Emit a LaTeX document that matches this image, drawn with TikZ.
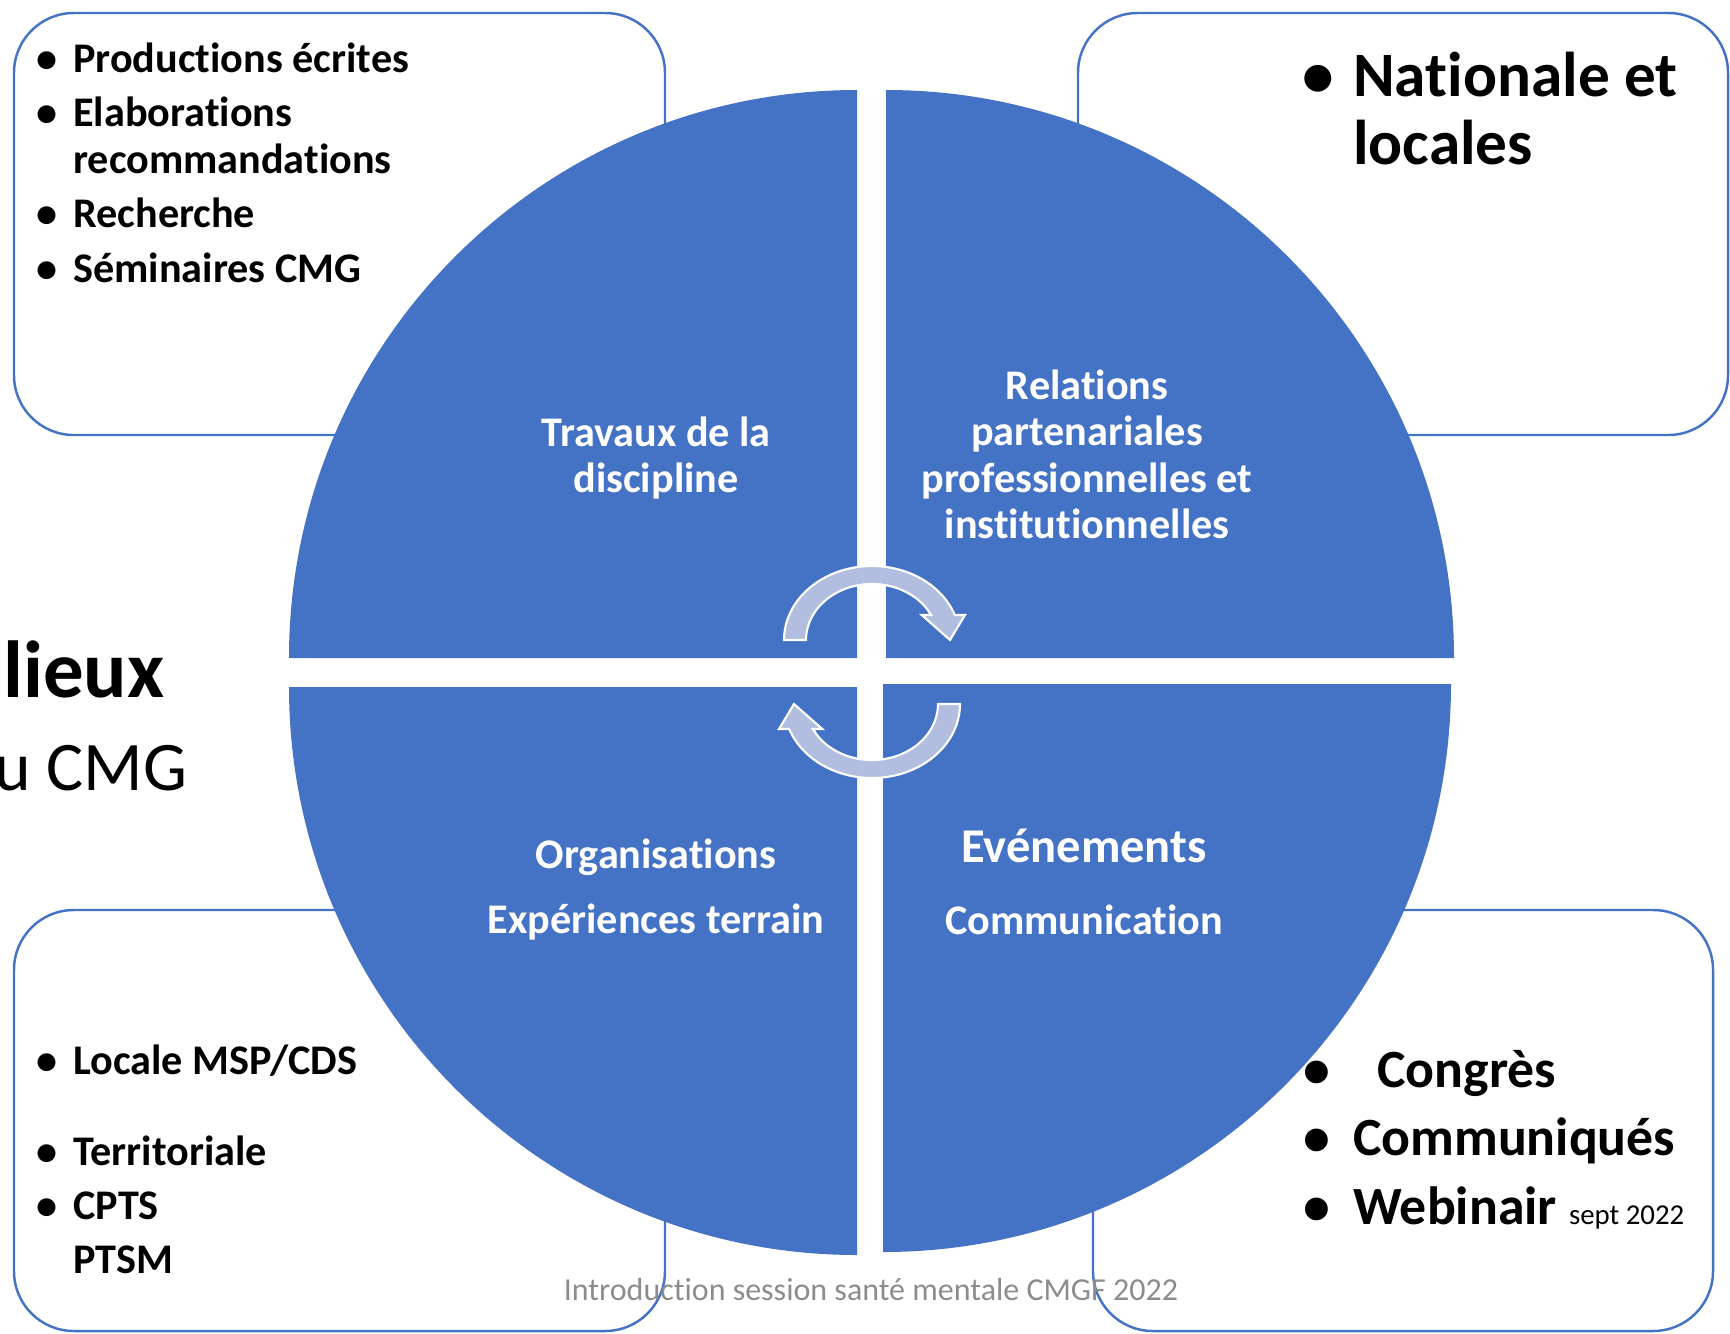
\documentclass[tikz,border=0pt]{standalone}
\usepackage{fontspec}
\setmainfont{Carlito}[Ligatures=NoCommon]
\usepackage{xcolor}
\definecolor{b1}{HTML}{4472C4}
\definecolor{a1}{RGB}{177,190,224}
\definecolor{f1}{HTML}{8C8C8C}
\newcommand{\stk}[1]{\begin{tabular}[t]{@{}c@{}}#1\end{tabular}}
\newcommand{\blt}[2][0.37em]{\begin{tabular}[t]{@{}l@{\hspace{#1}}l@{}}#2\end{tabular}}

\begin{document}
\begin{tikzpicture}[x=0.01cm, y=-0.01cm,
  box/.style={draw=b1, line width=0.7pt, rounded corners=17pt},
  quad/.style={fill=b1},
  cyc/.style={fill=a1, draw=white, line width=0.6pt},
  lab/.style={anchor=base, inner sep=0pt, text=white, font=\fontsize{12}{13.25}\selectfont\bfseries},
  small/.style={anchor=base west, inner sep=0pt, font=\fontsize{12}{13.4}\selectfont\bfseries},
  big/.style={anchor=base west, inner sep=0pt, font=\fontsize{18}{19.4}\selectfont\bfseries}]
  \def\R{568}
  \def\turn{(784,640) arc[start angle=180, end angle=340.3, x radius=88, y radius=74]
    -- (965,615) -- (950,640) -- (921.7,615) -- (931.1,615)
    arc[start angle=333.5, end angle=180, x radius=66, y radius=56] -- cycle}
  \useasboundingbox (0,0) rectangle (1730,1333);

  \draw[box] (14,13) rectangle (665,435);
  \draw[box] (1078,13) rectangle (1728,435);
  \draw[box] (14,910) rectangle (665,1331);
  \draw[box] (1093,910) rectangle (1713,1331);

  \node[small] (travauxList) at (36,72.5) {\blt{\textbullet & Productions écrites\\[2pt]
    \textbullet & Elaborations\\ & recommandations\\[2pt]
    \textbullet & Recherche\\[2pt] \textbullet & Séminaires CMG}};
  \node[big] (relationsList) at (1302,96) {\blt[0.3em]{\textbullet & Nationale et\\ & locales}};
  \node[small] (organisationsList) at (36,1074) {\blt{\textbullet & Locale MSP/CDS\\[12.5pt]
    \textbullet & Territoriale\\[2pt] \textbullet & CPTS\\[2pt] & PTSM}};
  \node[big, font=\fontsize{15.3}{19.5}\selectfont\bfseries] (evenementsList) at (1303,1087)
    {\blt[0.42em]{\textbullet & \hspace{0.45em}Congrès\\
    \textbullet & Communiqués\\
    \textbullet & Webinair \fontsize{8.2}{9}\selectfont\mdseries sept 2022}};

  \fill[quad] (857,658) -- ++(-\R,0) arc[start angle=180, end angle=270, radius=\R] -- cycle;
  \fill[quad] (886,658) -- ++(0,-\R) arc[start angle=270, end angle=360, radius=\R] -- cycle;
  \fill[quad] (857,687) -- ++(-\R,0) arc[start angle=180, end angle=90, radius=\R] -- cycle;
  \fill[quad] (883,684) -- ++(\R,0) arc[start angle=0, end angle=90, radius=\R] -- cycle;

  \node[lab] (travaux) at (656,446) {\stk{Travaux de la\\discipline}};
  \node[lab] (relations) at (1087,399) {\stk{Relations\\partenariales\\professionnelles et\\institutionnelles}};
  \node[lab] (organisations) at (656,868) {\stk{Organisations\\[5.4pt]Expériences terrain}};
  \node[lab] (evenements) at (1084,862) {\stk{{\fontsize{13.8}{14}\selectfont Evénements}\\[7.5pt]Communication}};

  \draw[cyc] \turn;
  \begin{scope}[rotate around={180:(872,672)}]
    \draw[cyc] \turn;
  \end{scope}

  \node[anchor=base east, inner sep=0pt, font=\fontsize{23}{25}\selectfont\bfseries] (titleA) at (165,697) {lieux};
  \node[anchor=base east, inner sep=0pt, font=\fontsize{19.8}{21}\selectfont] (titleB) at (188,790) {u CMG};
  \node[anchor=base, inner sep=0pt, text=f1, font=\fontsize{9.1}{10}\selectfont] (footer) at (871,1300) {Introduction session santé mentale CMGF 2022};
\end{tikzpicture}
\end{document}
